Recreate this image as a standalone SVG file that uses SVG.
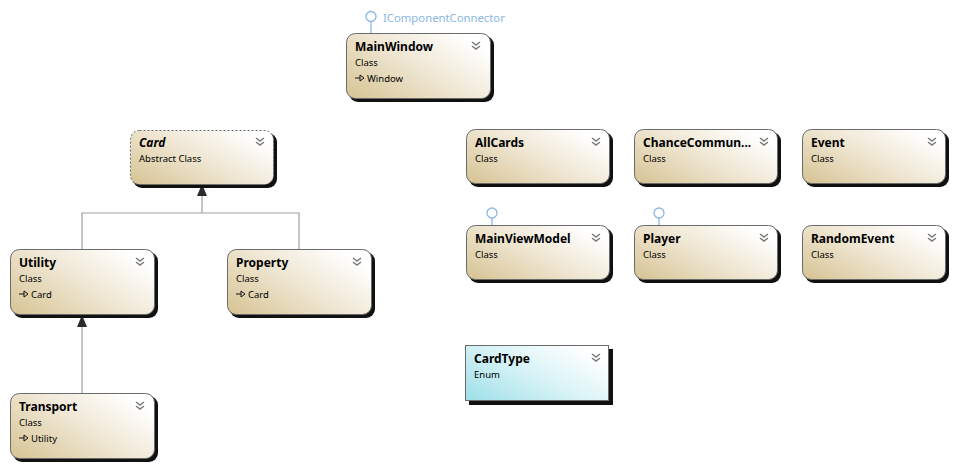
<svg xmlns="http://www.w3.org/2000/svg" width="955" height="468" viewBox="0 0 955 468">
  <defs>
    <linearGradient id="classFill" x1="0" y1="1" x2="1" y2="0.3">
      <stop offset="0" stop-color="#d6c393"/>
      <stop offset="0.55" stop-color="#efe6d2"/>
      <stop offset="1" stop-color="#ffffff"/>
    </linearGradient>
    <linearGradient id="enumFill" x1="0" y1="1" x2="1" y2="0.3">
      <stop offset="0" stop-color="#9edfe8"/>
      <stop offset="0.55" stop-color="#d8f3f6"/>
      <stop offset="1" stop-color="#ffffff"/>
    </linearGradient>
    <symbol id="chev" viewBox="0 0 10 9" overflow="visible">
      <polyline points="1,1 5,4 9,1" fill="none" stroke="#7a7a7a" stroke-width="1.5"/>
      <polyline points="1,5 5,8 9,5" fill="none" stroke="#7a7a7a" stroke-width="1.5"/>
    </symbol>
    <symbol id="inh" viewBox="0 0 10 8" overflow="visible">
      <line x1="0" y1="4" x2="5" y2="4" stroke="#111" stroke-width="1"/>
      <polygon points="5,1 9,4 5,7" fill="none" stroke="#111" stroke-width="1"/>
    </symbol>
  </defs>
  <style>
    .shadow { fill: #111111; }
    .box { fill: url(#classFill); stroke: #6a6a6a; stroke-width: 1; }
    .abstract { stroke-dasharray: 2 2; }
    .enum { fill: url(#enumFill); stroke: #6a6a6a; stroke-width: 1; }
    .title { font-family: "Noto Sans", "DejaVu Sans", sans-serif; font-size: 12px; font-weight: bold; fill: #000; }
    .sub { font-family: "Noto Sans", "DejaVu Sans", sans-serif; font-size: 9.5px; fill: #000; }
    .iface { font-family: "Noto Sans", "DejaVu Sans", sans-serif; font-size: 11.3px; fill: #8ab8e2; }
    .conn { stroke: #a0a0a0; stroke-width: 1.2; fill: none; }
    .head { fill: #2a2a2a; }
    .lolli { stroke: #8ab8e2; stroke-width: 1.3; fill: #ffffff; }
  </style>

  <!-- connectors -->
  <g id="connectors">
    <path class="conn" d="M202,196 V213 M82,249 V213 H299 V249"/>
    <polygon class="head" points="202,184 197,196 207,196"/>
    <path class="conn" d="M82,327 V393"/>
    <polygon class="head" points="82,315 77,327 87,327"/>
    <!-- interface lollipops -->
    <line class="lolli" x1="371" y1="22" x2="371" y2="33"/>
    <circle class="lolli" cx="371" cy="16.5" r="5"/>
    <text class="iface" x="383" y="22">IComponentConnector</text>
    <line class="lolli" x1="492" y1="218" x2="492" y2="225"/>
    <circle class="lolli" cx="492" cy="213" r="5"/>
    <line class="lolli" x1="659" y1="218" x2="659" y2="225"/>
    <circle class="lolli" cx="659" cy="213" r="5"/>
  </g>

  <g id="MainWindow">
    <rect class="shadow" x="349" y="36" width="145" height="66" rx="9"/>
    <rect class="box" x="346.5" y="33.5" width="144" height="65" rx="9"/>
    <text class="title" x="355" y="51">MainWindow</text>
    <use href="#chev" x="471" y="41" width="10" height="9"/>
    <text class="sub" x="355" y="66">Class</text>
    <use href="#inh" x="355" y="74" width="10" height="8"/>
    <text class="sub" x="367" y="82">Window</text>
  </g>

  <g id="Card">
    <rect class="shadow" x="133" y="133" width="144" height="55" rx="9"/>
    <rect class="box abstract" x="130.5" y="130.5" width="143" height="54" rx="9"/>
    <text class="title" x="139" y="147" font-style="italic">Card</text>
    <use href="#chev" x="255" y="137" width="10" height="9"/>
    <text class="sub" x="139" y="162">Abstract Class</text>
  </g>

  <g id="Utility">
    <rect class="shadow" x="13" y="252" width="145" height="66" rx="9"/>
    <rect class="box" x="10.5" y="249.5" width="144" height="65" rx="9"/>
    <text class="title" x="19" y="267">Utility</text>
    <use href="#chev" x="135" y="257" width="10" height="9"/>
    <text class="sub" x="19" y="282">Class</text>
    <use href="#inh" x="19" y="290" width="10" height="8"/>
    <text class="sub" x="31" y="298">Card</text>
  </g>

  <g id="Property">
    <rect class="shadow" x="230" y="252" width="145" height="66" rx="9"/>
    <rect class="box" x="227.5" y="249.5" width="144" height="65" rx="9"/>
    <text class="title" x="236" y="267">Property</text>
    <use href="#chev" x="352" y="257" width="10" height="9"/>
    <text class="sub" x="236" y="282">Class</text>
    <use href="#inh" x="236" y="290" width="10" height="8"/>
    <text class="sub" x="248" y="298">Card</text>
  </g>

  <g id="Transport">
    <rect class="shadow" x="13" y="396" width="145" height="66" rx="9"/>
    <rect class="box" x="10.5" y="393.5" width="144" height="65" rx="9"/>
    <text class="title" x="19" y="411">Transport</text>
    <use href="#chev" x="135" y="401" width="10" height="9"/>
    <text class="sub" x="19" y="426">Class</text>
    <use href="#inh" x="19" y="434" width="10" height="8"/>
    <text class="sub" x="31" y="442">Utility</text>
  </g>

  <g id="AllCards">
    <rect class="shadow" x="469" y="132" width="144" height="55" rx="9"/>
    <rect class="box" x="466.5" y="129.5" width="143" height="54" rx="9"/>
    <text class="title" x="475" y="147">AllCards</text>
    <use href="#chev" x="591" y="137" width="10" height="9"/>
    <text class="sub" x="475" y="162">Class</text>
  </g>

  <g id="ChanceCommunity">
    <rect class="shadow" x="637" y="132" width="144" height="55" rx="9"/>
    <rect class="box" x="634.5" y="129.5" width="143" height="54" rx="9"/>
    <text class="title" x="643" y="147">ChanceCommun...</text>
    <use href="#chev" x="759" y="137" width="10" height="9"/>
    <text class="sub" x="643" y="162">Class</text>
  </g>

  <g id="Event">
    <rect class="shadow" x="805" y="132" width="144" height="55" rx="9"/>
    <rect class="box" x="802.5" y="129.5" width="143" height="54" rx="9"/>
    <text class="title" x="811" y="147">Event</text>
    <use href="#chev" x="927" y="137" width="10" height="9"/>
    <text class="sub" x="811" y="162">Class</text>
  </g>

  <g id="MainViewModel">
    <rect class="shadow" x="469" y="228" width="144" height="55" rx="9"/>
    <rect class="box" x="466.5" y="225.5" width="143" height="54" rx="9"/>
    <text class="title" x="475" y="243">MainViewModel</text>
    <use href="#chev" x="591" y="233" width="10" height="9"/>
    <text class="sub" x="475" y="258">Class</text>
  </g>

  <g id="Player">
    <rect class="shadow" x="637" y="228" width="144" height="55" rx="9"/>
    <rect class="box" x="634.5" y="225.5" width="143" height="54" rx="9"/>
    <text class="title" x="643" y="243">Player</text>
    <use href="#chev" x="759" y="233" width="10" height="9"/>
    <text class="sub" x="643" y="258">Class</text>
  </g>

  <g id="RandomEvent">
    <rect class="shadow" x="805" y="228" width="144" height="55" rx="9"/>
    <rect class="box" x="802.5" y="225.5" width="143" height="54" rx="9"/>
    <text class="title" x="811" y="243">RandomEvent</text>
    <use href="#chev" x="927" y="233" width="10" height="9"/>
    <text class="sub" x="811" y="258">Class</text>
  </g>

  <g id="CardType">
    <rect class="shadow" x="469" y="349" width="144" height="56"/>
    <rect class="enum" x="465.5" y="345.5" width="143" height="55"/>
    <text class="title" x="474" y="363">CardType</text>
    <use href="#chev" x="591" y="353" width="10" height="9"/>
    <text class="sub" x="474" y="378">Enum</text>
  </g>
</svg>
